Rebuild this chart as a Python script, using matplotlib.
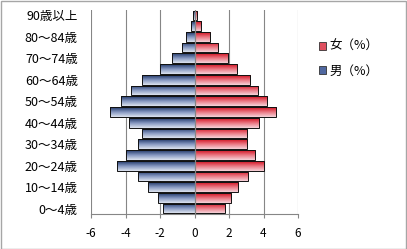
import matplotlib
matplotlib.use("Agg")
import matplotlib.pyplot as plt
import numpy as np
from matplotlib.colors import LinearSegmentedColormap
from matplotlib.patches import Rectangle, Patch

plt.rcParams['font.family'] = ['Noto Sans CJK JP', 'DejaVu Sans']
plt.rcParams['axes.unicode_minus'] = False

age_groups = ["0～4歳", "5～9歳", "10～14歳", "15～19歳", "20～24歳", "25～29歳",
              "30～34歳", "35～39歳", "40～44歳", "45～49歳", "50～54歳", "55～59歳",
              "60～64歳", "65～69歳", "70～74歳", "75～79歳", "80～84歳", "85～89歳",
              "90歳以上"]
male = [1.85, 2.14, 2.72, 3.29, 4.51, 3.99, 3.29, 3.06, 3.82, 4.89, 4.28, 3.70,
        3.06, 2.02, 1.33, 0.73, 0.48, 0.23, 0.10]
female = [1.78, 2.11, 2.52, 3.10, 4.03, 3.51, 3.04, 3.04, 3.74, 4.75, 4.21, 3.69,
          3.22, 2.46, 1.96, 1.36, 0.91, 0.37, 0.13]
x_ticks = [-6, -4, -2, 0, 2, 4, 6]
x_tick_labels = ["-6", "-4", "-2", "0", "2", "4", "6"]
labels = ["女（%）", "男（%）"]

W, H = 407, 249
fig = plt.figure(figsize=(W / 100, H / 100), dpi=100)
fig.patch.set_facecolor('white')
ax = fig.add_axes([91 / W, 35 / H, 207 / W, 204 / H])

y = np.arange(len(age_groups))
blue_cmap = LinearSegmentedColormap.from_list('b', ['#dde3ef', '#8597c0', '#1f3566'])
red_cmap = LinearSegmentedColormap.from_list('r', ['#f6d3d9', '#ea7783', '#d0101f'])

bh = 0.9
mbars = ax.barh(y, [-v for v in male], height=bh, color='none', edgecolor='#111111',
                linewidth=0.7, zorder=4)
fbars = ax.barh(y, female, height=bh, color='none', edgecolor='#111111',
                linewidth=0.7, zorder=4)

grad = np.linspace(1, 0, 64).reshape(-1, 1)
for bars, cmap in ((mbars, blue_cmap), (fbars, red_cmap)):
    for p in bars:
        x0, yb = p.get_x(), p.get_y()
        w, h = p.get_width(), p.get_height()
        im = ax.imshow(grad, extent=(x0, x0 + w, yb, yb + h), origin='upper',
                       aspect='auto', cmap=cmap, vmin=0, vmax=1, zorder=3,
                       interpolation='bilinear')
        clip = Rectangle((x0, yb), w, h, transform=ax.transData)
        im.set_clip_path(clip)

ax.set_xlim(-6, 6)
ax.set_ylim(-0.5, len(age_groups) - 0.5)
ax.set_aspect('auto')

for xv in x_ticks:
    if xv != 0:
        ax.axvline(xv, color='#868686', linewidth=0.8, zorder=1)
ax.axvline(0, color='#868686', linewidth=0.9, zorder=5)

for s in ['left', 'right', 'top']:
    ax.spines[s].set_visible(False)
ax.spines['bottom'].set_color('#868686')
ax.spines['bottom'].set_linewidth(0.8)

ax.set_xticks(x_ticks)
ax.set_xticklabels(x_tick_labels, fontsize=8.5)
ax.tick_params(axis='x', length=3, width=0.8, color='#868686', pad=6.5)
ax.set_yticks(y[::2])
ax.set_yticklabels(age_groups[::2], fontsize=9)
ax.tick_params(axis='y', length=0, pad=9.5)

handles = [Patch(facecolor='#e05060', edgecolor='#333333', linewidth=0.6),
           Patch(facecolor='#5068a0', edgecolor='#333333', linewidth=0.6)]
fig.legend(handles, labels, loc='upper left', bbox_to_anchor=(308 / W, 1 - 29 / H),
           frameon=False, fontsize=9, handlelength=0.55, handleheight=0.55,
           handletextpad=0.3, labelspacing=0.9)

fig.add_artist(Rectangle((0.5 / W, 0.5 / H), 1 - 1.5 / W, 1 - 1.5 / H,
                         transform=fig.transFigure, fill=False,
                         edgecolor='#a6a6a6', linewidth=1.0))

fig.savefig('out.png', dpi=100)
